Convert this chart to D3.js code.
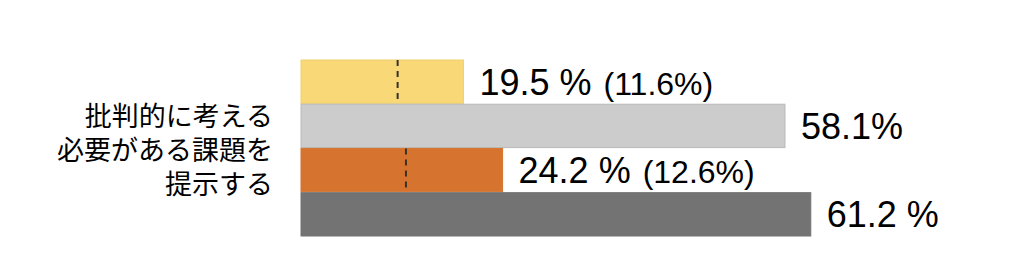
<!DOCTYPE html>
<html>
<head>
<meta charset="utf-8">
<script src="https://cdn.jsdelivr.net/npm/d3@7"></script>
<style>
  body { margin: 0; background: #fff; }
  text { font-family: "Liberation Sans", Arial, sans-serif; fill: #000; }
  .cat { font-family: "Noto Sans CJK JP", sans-serif; font-size: 27px; }
</style>
</head>
<body>
<svg id="svg1" width="1014" height="276"></svg>
<script>
const svg1 = d3.select('#svg1');

// bars top to bottom
const rows = ['a', 'b', 'c', 'd'];
const values = [19.5, 58.1, 24.2, 61.2];
const subValues = [11.6, null, 12.6, null];
const mainLabels = ['19.5 %', '58.1%', '24.2 %', '61.2 %'];
const subLabels = ['(11.6%)', '', '(12.6%)', ''];
const colours = ['#f8d877', '#cccccc', '#d6732e', '#737373'];
const strokes = ['#f0cf6c', '#b9b9b9', '#d6732e', '#737373'];
const categoryLines = ['批判的に考える', '必要がある課題を', '提示する'];

const xScale = d3.scaleLinear()
  .domain([0, 100])
  .range([301, 1134]);

const yScale = d3.scaleBand()
  .domain(rows)
  .range([60, 236])
  .paddingInner(0.02);

const data = rows.map((r, i) => ({
  row: r, value: values[i], sub: subValues[i],
  main: mainLabels[i], subLabel: subLabels[i],
  colour: colours[i], stroke: strokes[i]
}));

const g = svg1.append('g');

g.selectAll('.bar').data(data)
  .enter().append('rect')
    .attr('class', 'bar')
    .attr('x', xScale(0))
    .attr('y', d => yScale(d.row))
    .attr('width', d => xScale(d.value) - xScale(0))
    .attr('height', yScale.bandwidth())
    .attr('fill', d => d.colour)
    .attr('stroke', d => d.stroke)
    .attr('stroke-width', 1);

// dashed marker for the bracketed value
g.selectAll('.marker').data(data.filter(d => d.sub != null))
  .enter().append('line')
    .attr('class', 'marker')
    .attr('x1', d => xScale(d.sub))
    .attr('x2', d => xScale(d.sub))
    .attr('y1', d => yScale(d.row))
    .attr('y2', d => yScale(d.row) + yScale.bandwidth())
    .attr('stroke', '#3a3226')
    .attr('stroke-width', 2)
    .attr('stroke-dasharray', '6,5');

const labels = g.selectAll('.value-label').data(data)
  .enter().append('text')
    .attr('class', 'value-label')
    .attr('x', d => xScale(d.value) + 16)
    .attr('y', d => yScale(d.row) + yScale.bandwidth() / 2 + 13);

labels.append('tspan')
  .attr('font-size', '36px')
  .text(d => d.main);

labels.append('tspan')
  .attr('font-size', '32px')
  .attr('dx', 12)
  .text(d => d.subLabel);

g.append('text')
  .attr('class', 'cat')
  .attr('text-anchor', 'end')
  .selectAll('tspan').data(categoryLines)
  .enter().append('tspan')
    .attr('x', 273)
    .attr('y', (d, i) => 126 + i * 34)
    .text(d => d);
</script>
</body>
</html>
